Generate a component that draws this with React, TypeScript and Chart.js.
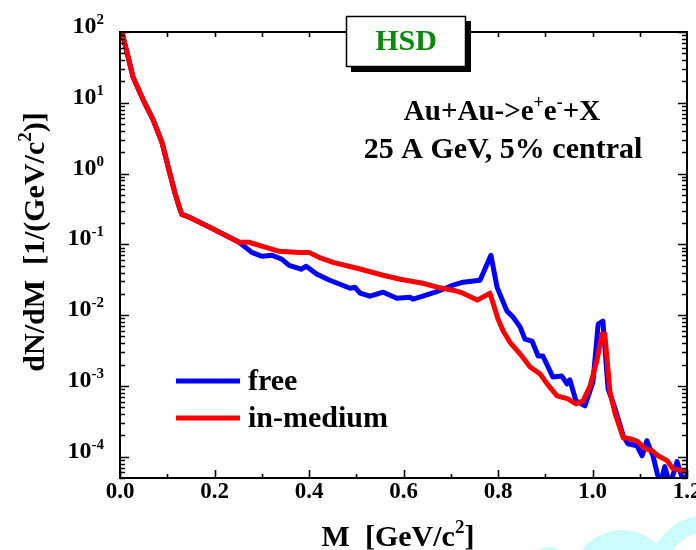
import React, { useEffect, useRef } from "react";
import { Chart, registerables } from "chart.js";

Chart.register(...registerables);

// ---- data ----
const massFree = [
  0.005, 0.015, 0.0275, 0.049, 0.07, 0.089, 0.1016, 0.116, 0.127, 0.131, 0.148, 0.19, 0.252,
  0.279, 0.301, 0.322, 0.343, 0.358, 0.383, 0.394, 0.417, 0.444, 0.487, 0.497, 0.508, 0.529,
  0.557, 0.586, 0.614, 0.62, 0.641, 0.667, 0.684, 0.705, 0.726, 0.762, 0.785, 0.798, 0.819,
  0.832, 0.847, 0.857, 0.872, 0.885, 0.895, 0.916, 0.935, 0.946, 0.952, 0.965, 0.984, 1.001,
  1.012, 1.022, 1.033, 1.048, 1.065, 1.075, 1.094, 1.105, 1.115, 1.128, 1.143, 1.153, 1.164,
  1.179, 1.192, 1.2,
];
const dndmFree = [
  95, 50.6, 23.2, 11.0, 5.77, 2.73, 1.26, 0.54, 0.311, 0.265, 0.24, 0.174, 0.107,
  0.077, 0.0678, 0.07, 0.0615, 0.0506, 0.0445, 0.049, 0.0378, 0.0311, 0.024, 0.0248, 0.0204, 0.0185,
  0.0211, 0.0173, 0.0179, 0.0168, 0.0185, 0.0211, 0.0232, 0.0265, 0.0292, 0.0311, 0.07, 0.0248, 0.0114,
  0.00938, 0.00678, 0.00459, 0.0043, 0.00265, 0.00265, 0.00134, 0.00138, 0.00107, 0.00122, 0.000615, 0.000522, 0.00114,
  0.00746, 0.00822, 0.000908, 0.000474, 0.000198, 0.000152, 0.000143, 0.000103, 0.000168, 0.000103, 0.00004, 0.0000723, 0.00004,
  0.0000851, 0.000045, 0.000055,
];
const massMedium = [
  0.005, 0.015, 0.0275, 0.049, 0.07, 0.089, 0.1016, 0.116, 0.127, 0.131, 0.148, 0.19, 0.252,
  0.273, 0.309, 0.337, 0.379, 0.4, 0.421, 0.451, 0.502, 0.557, 0.593, 0.641, 0.671, 0.705, 0.726,
  0.756, 0.783, 0.8, 0.811, 0.825, 0.847, 0.868, 0.889, 0.904, 0.925, 0.948, 0.965, 0.98, 0.995,
  1.01, 1.02, 1.026, 1.037, 1.048, 1.065, 1.079, 1.096, 1.111, 1.126, 1.139, 1.158, 1.17, 1.192, 1.2,
];
const dndmMedium = [
  95, 50.6, 23.2, 11.0, 5.77, 2.73, 1.26, 0.54, 0.311, 0.265, 0.24, 0.174, 0.107,
  0.107, 0.0908, 0.0796, 0.077, 0.077, 0.0656, 0.0557, 0.0459, 0.0366, 0.0321, 0.0282, 0.0248, 0.0225, 0.0204,
  0.0163, 0.0204, 0.00879, 0.00596, 0.00417, 0.00282, 0.00185, 0.00148, 0.00107, 0.000723, 0.000656, 0.000557, 0.000615, 0.001,
  0.0024, 0.0054, 0.0054, 0.000822, 0.000404, 0.000185, 0.00018, 0.000163, 0.00013, 0.000122, 0.000103, 0.0000879, 0.0000678, 0.0000635, 0.0000615,
];
const seriesNames = ["free", "in-medium"];
const seriesColors = ["#0000ff", "#ff0000"];
const xTickValues = [0, 0.2, 0.4, 0.6, 0.8, 1.0, 1.2];
const xTickLabels = ["0.0", "0.2", "0.4", "0.6", "0.8", "1.0", "1.2"];
const yTickExponents = [-4, -3, -2, -1, 0, 1, 2];
const X_MIN = 0;
const X_MAX = 1.2;
const Y_MIN = 5e-5;
const Y_MAX = 100;

const FONT = '"Liberation Serif", "Times New Roman", serif';
const f = (s: number) => `bold ${s}px ${FONT}`;

type Piece = { t: string; size: number; dy: number };

function drawPieces(
  ctx: CanvasRenderingContext2D,
  pieces: Piece[],
  x: number,
  y: number,
  align: "left" | "center" | "right"
) {
  ctx.save();
  ctx.textAlign = "left";
  ctx.textBaseline = "alphabetic";
  let total = 0;
  const widths = pieces.map((p) => {
    ctx.font = f(p.size);
    const w = ctx.measureText(p.t).width;
    total += w;
    return w;
  });
  let cx = align === "left" ? x : align === "center" ? x - total / 2 : x - total;
  pieces.forEach((p, i) => {
    ctx.font = f(p.size);
    ctx.fillText(p.t, cx, y + p.dy);
    cx += widths[i];
  });
  ctx.restore();
}

const framePlugin = {
  id: "framePlugin",
  beforeDraw(chart: any) {
    const ctx: CanvasRenderingContext2D = chart.ctx;
    ctx.save();
    ctx.fillStyle = "#ffffff";
    ctx.fillRect(0, 0, chart.width, chart.height);
    // light cyan decoration at bottom right
    ctx.fillStyle = "#ccfbfc";
    ctx.strokeStyle = "#ccfbfc";
    ctx.beginPath();
    ctx.arc(549, 566, 19, Math.PI, 2 * Math.PI);
    ctx.fill();
    ctx.lineWidth = 20;
    ctx.beginPath();
    ctx.arc(622, 580, 40, Math.PI * 1.08, Math.PI * 1.9);
    ctx.stroke();
    ctx.lineWidth = 17;
    ctx.beginPath();
    ctx.arc(706, 572, 48, Math.PI * 1.0, Math.PI * 1.62);
    ctx.stroke();
    ctx.restore();
  },
  afterDraw(chart: any) {
    const ctx: CanvasRenderingContext2D = chart.ctx;
    const xs = chart.scales.x;
    const ys = chart.scales.y;
    const a = chart.chartArea;
    ctx.save();
    ctx.strokeStyle = "#000";
    ctx.fillStyle = "#000";
    ctx.lineWidth = 2;
    ctx.strokeRect(a.left, a.top, a.right - a.left, a.bottom - a.top);

    ctx.lineWidth = 1.6;
    ctx.beginPath();
    // x ticks
    for (let i = 0; i <= 12; i++) {
      const v = i * 0.1;
      const px = Math.round(xs.getPixelForValue(v)) + 0.5;
      const major = i % 2 === 0;
      ctx.moveTo(px, a.bottom);
      ctx.lineTo(px, a.bottom - (major ? 8 : 4));
      if (i > 0 && i < 12) {
        ctx.moveTo(px, a.top);
        ctx.lineTo(px, a.top + 5);
      }
    }
    // y ticks (log)
    for (let e = -5; e <= 2; e++) {
      for (let k = 1; k <= 9; k++) {
        const v = k * Math.pow(10, e);
        if (v < Y_MIN * 0.999 || v > Y_MAX * 1.001) continue;
        const py = Math.round(ys.getPixelForValue(v)) + 0.5;
        const len = k === 1 ? 9 : 5;
        ctx.moveTo(a.left, py);
        ctx.lineTo(a.left + len, py);
        ctx.moveTo(a.right, py);
        ctx.lineTo(a.right - len, py);
      }
    }
    ctx.stroke();

    // y tick labels
    yTickExponents.forEach((e) => {
      const py = ys.getPixelForValue(Math.pow(10, e));
      drawPieces(
        ctx,
        [
          { t: "10", size: 24, dy: 0 },
          { t: String(e), size: 15, dy: -9 },
        ],
        104,
        py + 1,
        "right"
      );
    });
    // x tick labels
    xTickValues.forEach((v, i) => {
      const px = xs.getPixelForValue(v);
      drawPieces(ctx, [{ t: xTickLabels[i], size: 23, dy: 0 }], px, 498, "center");
    });

    // axis titles
    drawPieces(
      ctx,
      [
        { t: "M  [GeV/c", size: 30, dy: 0 },
        { t: "2", size: 19, dy: -13 },
        { t: "]", size: 30, dy: 0 },
      ],
      398,
      546,
      "center"
    );
    ctx.save();
    ctx.translate(44, 242);
    ctx.rotate(-Math.PI / 2);
    drawPieces(
      ctx,
      [
        { t: "dN/dM  [1/(GeV/c", size: 30, dy: 0 },
        { t: "2", size: 19, dy: -13 },
        { t: ")]", size: 30, dy: 0 },
      ],
      0,
      0,
      "center"
    );
    ctx.restore();

    // annotation text
    drawPieces(
      ctx,
      [
        { t: "Au+Au->e", size: 29, dy: 0 },
        { t: "+", size: 18, dy: -12 },
        { t: "e", size: 29, dy: 0 },
        { t: "-", size: 18, dy: -12 },
        { t: "+X", size: 29, dy: 0 },
      ],
      502,
      120,
      "center"
    );
    drawPieces(ctx, [{ t: "25 A GeV, 5% central", size: 30, dy: 0 }], 503, 158, "center");

    // legend
    const legY = [381, 418];
    seriesNames.forEach((name, i) => {
      ctx.strokeStyle = seriesColors[i];
      ctx.lineWidth = 5;
      ctx.beginPath();
      ctx.moveTo(176, legY[i]);
      ctx.lineTo(240, legY[i]);
      ctx.stroke();
      ctx.fillStyle = "#000";
      drawPieces(ctx, [{ t: name, size: 30, dy: 0 }], 248, legY[i] + 9, "left");
    });

    // HSD box with shadow
    ctx.fillStyle = "#000";
    ctx.fillRect(351, 21, 120, 51);
    ctx.fillStyle = "#fff";
    ctx.fillRect(346, 16, 120, 51);
    ctx.strokeStyle = "#000";
    ctx.lineWidth = 1.5;
    ctx.strokeRect(346.5, 16.5, 119, 50);
    ctx.fillStyle = "#0a8a0a";
    drawPieces(ctx, [{ t: "HSD", size: 30, dy: 0 }], 406, 50, "center");
    ctx.restore();
  },
};

export default function App() {
  const ref = useRef<HTMLCanvasElement | null>(null);
  useEffect(() => {
    if (!ref.current) return;
    const chart = new Chart(ref.current, {
      type: "line",
      data: {
        datasets: [
          {
            label: seriesNames[0],
            data: massFree.map((m, i) => ({ x: m, y: dndmFree[i] })),
            borderColor: seriesColors[0],
            backgroundColor: seriesColors[0],
            borderWidth: 5,
            pointRadius: 0,
            tension: 0,
            borderJoinStyle: "round",
            borderCapStyle: "round",
            order: 2,
          },
          {
            label: seriesNames[1],
            data: massMedium.map((m, i) => ({ x: m, y: dndmMedium[i] })),
            borderColor: seriesColors[1],
            backgroundColor: seriesColors[1],
            borderWidth: 5,
            pointRadius: 0,
            tension: 0,
            borderJoinStyle: "round",
            borderCapStyle: "round",
            order: 1,
          },
        ],
      },
      options: {
        animation: false,
        responsive: false,
        maintainAspectRatio: false,
        devicePixelRatio: 1,
        layout: { padding: { left: 120, right: 9, top: 32, bottom: 72 } },
        scales: {
          x: { type: "linear", min: X_MIN, max: X_MAX, display: false },
          y: { type: "logarithmic", min: Y_MIN, max: Y_MAX, display: false },
        },
        plugins: { legend: { display: false }, tooltip: { enabled: false } },
      },
      plugins: [framePlugin],
    } as any);
    return () => chart.destroy();
  }, []);
  return (
    <div style={{ position: "absolute", left: 0, top: 0, width: 696, height: 550 }}>
      <canvas ref={ref} width={696} height={550} style={{ width: 696, height: 550, display: "block" }} />
    </div>
  );
}
